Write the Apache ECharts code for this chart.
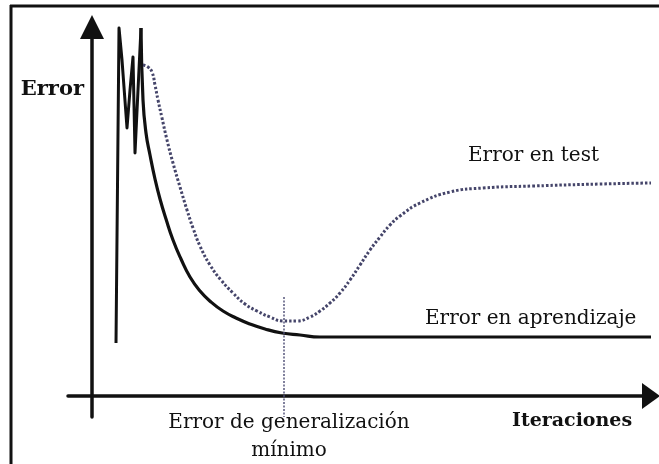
<!DOCTYPE html>
<html>
<head>
<meta charset="utf-8">
<script src="https://cdn.jsdelivr.net/npm/echarts@6/dist/echarts.min.js"></script>
<style>
  html, body { margin: 0; padding: 0; background: #fff; }
  #chart { width: 659px; height: 464px; }
</style>
</head>
<body>
<div id="chart"></div>
<script>
// iteraciones (x) y error (y), leidos de la figura
// tramo inicial oscilante del error de aprendizaje
const spikeX = [24, 27, 30, 35, 38, 41, 43, 46, 49];
const spikeY = [53, 368, 336, 268, 306, 339, 243, 306, 368];
// tramo decreciente del error de aprendizaje
const trainX = [49, 51, 54, 58, 63, 68, 74, 81, 89, 98, 108, 119, 131, 144, 158, 173, 190, 208, 228, 559];
const trainY = [368, 296, 263, 241, 217, 197, 177, 156, 137, 119, 105, 94, 85, 78, 72, 67, 63, 61, 59, 59];

const testX = [51, 56, 60, 63, 66, 70, 75, 81, 88, 95, 101, 108, 118, 129, 141, 153, 165, 178, 191, 205, 218, 228, 238, 248, 258, 268, 278, 288, 298, 308, 328, 358, 391, 441, 508, 559];
const testY = [331, 329, 324, 311, 296, 278, 256, 233, 209, 186, 168, 150, 131, 116, 103, 92, 85, 79, 75, 75, 79, 85, 93, 103, 116, 131, 146, 159, 171, 180, 193, 204, 208, 210, 212, 213];

// minimo del error de generalizacion
const minX = 192;
const minY = [99, -21];

const serif = "DejaVu Serif";
const ink = "#111";

const chart = echarts.init(document.getElementById("chart"));
chart.setOption({
  animation: false,
  grid: { left: 68, right: 8, top: 27, bottom: 47 },
  xAxis: {
    type: "value",
    min: -24,
    max: 559,
    splitLine: { show: false },
    axisTick: { show: false },
    axisLabel: { show: false },
    axisLine: {
      onZero: true,
      lineStyle: { color: ink, width: 3.5 },
      symbol: ["none", "triangle"],
      symbolSize: [26, 18],
    },
  },
  yAxis: {
    type: "value",
    min: -21,
    max: 369,
    splitLine: { show: false },
    axisTick: { show: false },
    axisLabel: { show: false },
    axisLine: {
      onZero: true,
      lineStyle: { color: ink, width: 3.5 },
      symbol: ["none", "triangle"],
      symbolSize: [24, 24],
    },
  },
  series: [
    {
      name: "Error en aprendizaje (inicio)",
      type: "line",
      data: spikeX.map((x, i) => [x, spikeY[i]]),
      showSymbol: false,
      smooth: false,
      lineStyle: { color: ink, width: 3, join: "round" },
    },
    {
      name: "Error en aprendizaje",
      type: "line",
      data: trainX.map((x, i) => [x, trainY[i]]),
      showSymbol: false,
      smooth: 0.5,
      lineStyle: { color: ink, width: 3.2 },
    },
    {
      name: "Error en test",
      type: "line",
      data: testX.map((x, i) => [x, testY[i]]),
      showSymbol: false,
      smooth: 0.5,
      lineStyle: { color: "#45456a", width: 3, type: [2.5, 2] },
    },
    {
      name: "minimo",
      type: "line",
      data: minY.map((y) => [minX, y]),
      showSymbol: false,
      lineStyle: { color: "#4a4a72", width: 1.4, type: [2, 1.5] },
    },
  ],
  graphic: [
    { type: "line", shape: { x1: 11, y1: 5, x2: 11, y2: 464 }, style: { stroke: ink, lineWidth: 3 } },
    { type: "line", shape: { x1: 10, y1: 6, x2: 659, y2: 6 }, style: { stroke: ink, lineWidth: 3 } },
    {
      type: "text", x: 84, y: 90,
      style: { text: "Error", font: "bold 21px '" + serif + "'", fill: ink, align: "right", verticalAlign: "middle" },
    },
    {
      type: "text", x: 468, y: 156,
      style: { text: "Error en test", font: "20px '" + serif + "'", fill: ink, align: "left", verticalAlign: "middle" },
    },
    {
      type: "text", x: 425, y: 319,
      style: { text: "Error en aprendizaje", font: "20px '" + serif + "'", fill: ink, align: "left", verticalAlign: "middle" },
    },
    {
      type: "text", x: 289, y: 423,
      style: { text: "Error de generalización", font: "20px '" + serif + "'", fill: ink, align: "center", verticalAlign: "middle" },
    },
    {
      type: "text", x: 289, y: 451,
      style: { text: "mínimo", font: "20px '" + serif + "'", fill: ink, align: "center", verticalAlign: "middle" },
    },
    {
      type: "text", x: 512, y: 421,
      style: { text: "Iteraciones", font: "bold 19px '" + serif + "'", fill: ink, align: "left", verticalAlign: "middle" },
    },
  ],
});
</script>
</body>
</html>
